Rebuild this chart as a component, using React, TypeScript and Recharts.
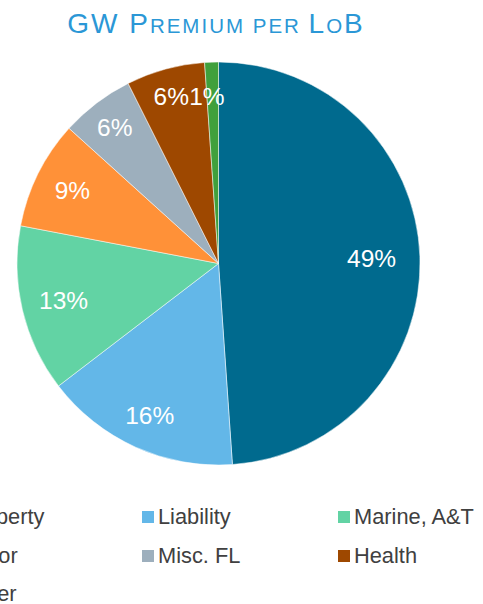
import React from 'react';
import { PieChart, Pie, Cell, Legend } from 'recharts';

const categories = ['Property', 'Liability', 'Marine, A&T', 'Motor', 'Misc. FL', 'Health', 'Other'];
const shares = [48.9, 15.7, 13.4, 8.7, 5.9, 6.3, 1.1];
const colors = ['#006A8E', '#63B7E8', '#62D3A4', '#FF9138', '#9DAFBD', '#9E4800', '#40A03C'];
const labelRadius = [0.76, 0.83, 0.79, 0.81, 0.85, 0.86, 0.83];
const labelAngleShift = [0, 0, 0, 0, 0, 0.5, 2];

const data = categories.map((name, i) => ({ name, value: shares[i] }));

const FONT = '"Liberation Sans", Arial, Helvetica, sans-serif';
const RAD = Math.PI / 180;

const renderLabel = (props: any) => {
  const { cx, cy, midAngle, outerRadius, percent, index } = props;
  const r = outerRadius * labelRadius[index];
  const a = midAngle + labelAngleShift[index];
  const x = cx + r * Math.cos(-a * RAD);
  const y = cy + r * Math.sin(-a * RAD);
  return (
    <text x={x} y={y} fill="#FFFFFF" fontSize={24.5} fontFamily={FONT} textAnchor="middle" dominantBaseline="central">
      {`${Math.round(percent * 100)}%`}
    </text>
  );
};

const renderLegend = () => (
  <div style={{ position: 'relative', width: 483, height: 110, fontFamily: FONT }}>
    {categories.map((name, i) => {
      const col = i % 3;
      const row = Math.floor(i / 3);
      const left = -54 + 196 * col;
      const top = 22 + 38.5 * row;
      return (
        <div key={name} style={{ position: 'absolute', left, top: top - 12, height: 24, display: 'flex', alignItems: 'center', whiteSpace: 'nowrap' }}>
          <span style={{ display: 'inline-block', width: 12, height: 12, background: colors[i], marginRight: 4 }} />
          <span style={{ fontSize: 21.8, color: '#404040', lineHeight: '24px' }}>{name}</span>
        </div>
      );
    })}
  </div>
);

export default function App() {
  return (
    <div style={{ position: 'absolute', left: 0, top: 0, width: 483, height: 604, background: '#fff', overflow: 'hidden' }}>
      <div style={{ position: 'absolute', left: 0, top: 8, width: 432, textAlign: 'center', color: '#2B97D6', fontFamily: FONT, whiteSpace: 'nowrap', lineHeight: '32px', letterSpacing: 2 }}>
        <span style={{ fontSize: 28 }}>GW P</span>
        <span style={{ fontSize: 20.5 }}>REMIUM PER </span>
        <span style={{ fontSize: 28 }}>L</span>
        <span style={{ fontSize: 20.5 }}>O</span>
        <span style={{ fontSize: 28 }}>B</span>
      </div>
      <PieChart width={483} height={604} margin={{ top: 0, right: 0, bottom: 0, left: 0 }}>
        <Pie
          data={data}
          dataKey="value"
          nameKey="name"
          cx={218.5}
          cy={263.5}
          outerRadius={201.5}
          startAngle={90}
          endAngle={-270}
          stroke="#FFFFFF"
          strokeWidth={0.5}
          label={renderLabel}
          labelLine={false}
          isAnimationActive={false}
        >
          {data.map((d, i) => (
            <Cell key={d.name} fill={colors[i]} />
          ))}
        </Pie>
        <Legend
          content={renderLegend}
          wrapperStyle={{ position: 'absolute', left: 0, top: 495, width: 483, height: 110 }}
        />
      </PieChart>
    </div>
  );
}
